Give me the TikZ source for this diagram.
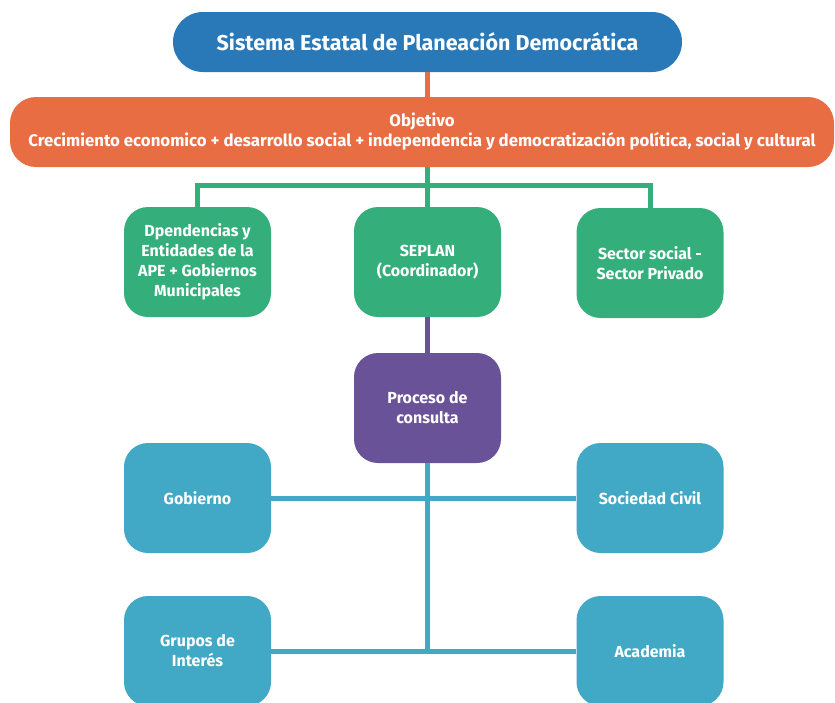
\documentclass[tikz,border=0pt]{standalone}
\usepackage{fontspec}
\setmainfont{Fira Sans}
\definecolor{azulTitulo}{RGB}{41,120,183}
\definecolor{naranja}{RGB}{232,109,67}
\definecolor{verde}{RGB}{52,175,123}
\definecolor{morado}{RGB}{106,82,153}
\definecolor{azulClaro}{RGB}{65,168,197}
\tikzset{
  caja/.style={rounded corners=24pt, text=white, font=\bfseries\fontsize{16}{20}\selectfont,
    align=center, inner sep=0pt, minimum width=147pt, minimum height=110pt},
  cajaVerde/.style={caja, fill=verde},
  cajaMorada/.style={caja, fill=morado},
  cajaAzul/.style={caja, fill=azulClaro},
  linea/.style={line width=5pt}
}
\begin{document}
\begin{tikzpicture}[x=1pt,y=-1pt]
\clip (0,0) rectangle (835,702);

% Titulo y objetivo
\node[fill=azulTitulo, rounded corners=30pt, minimum width=509pt, minimum height=60pt,
  text=white, font=\bfseries\fontsize{21.5}{24}\selectfont] (titulo) at (427.5,42) {Sistema Estatal de Planeación Democrática};
\node[fill=naranja, rounded corners=26pt, minimum width=824pt, minimum height=70pt,
  text=white, align=center, font=\bfseries\fontsize{16.8}{20}\selectfont] (objetivo) at (422,132)
  {Objetivo\\Crecimiento economico + desarrollo social + independencia y democratización política, social y cultural};

% Nivel verde
\node[cajaVerde] (dependencias) at (197.5,262) {Dpendencias y\\Entidades de la\\APE + Gobiernos\\Municipales};
\node[cajaVerde] (seplan) at (427.5,262) {SEPLAN\\(Coordinador)};
\node[cajaVerde] (sector) at (650,263) {Sector social -\\Sector Privado};

% Consulta
\node[cajaMorada] (consulta) at (427.5,408) {Proceso de\\consulta};

% Nivel azul
\node[cajaAzul] (gobierno) at (197.5,498) {Gobierno};
\node[cajaAzul] (sociedad) at (650,498) {Sociedad Civil};
\node[cajaAzul] (grupos) at (197.5,651) {Grupos de\\Interés};
\node[cajaAzul] (academia) at (650,651) {Academia};

% Conectores
\coordinate (barraVerde) at (427.5,185);
\draw[linea, naranja] (titulo.south) -- (titulo.south |- objetivo.north);
\draw[linea, verde] (objetivo.south -| seplan.north) -- (seplan.north);
\draw[linea, verde] (dependencias.north) |- (barraVerde) -| (sector.north);
\draw[linea, morado] (seplan.south) -- (consulta.north);
\draw[linea, azulClaro] (consulta.south) -- (consulta.south |- grupos.east);
\draw[linea, azulClaro] (gobierno.east) -- (sociedad.west);
\draw[linea, azulClaro] (grupos.east) -- (academia.west);

\end{tikzpicture}
\end{document}
